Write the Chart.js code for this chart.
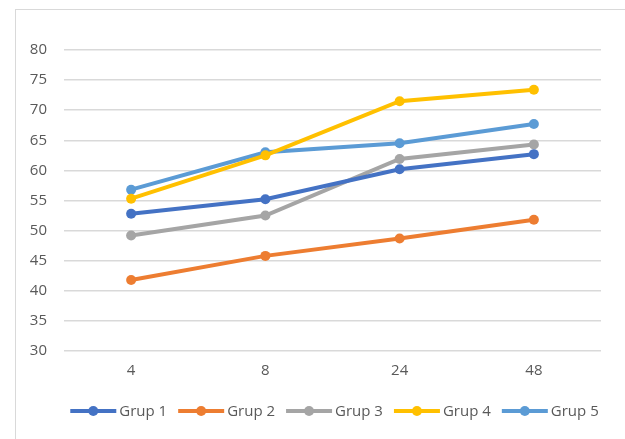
<!DOCTYPE html>
<html>
<head>
<meta charset="utf-8">
<script src="https://cdn.jsdelivr.net/npm/chart.js@4"></script>
<style>
    html, body { margin: 0; padding: 0; background: #fff; overflow: hidden; }
    #wrap { position: relative; width: 625px; height: 439px; }
    #frame {
        position: absolute; left: 15px; top: 9px; width: 700px; height: 500px;
        border-left: 1.5px solid #d9d9d9; border-top: 1.5px solid #d9d9d9;
    }
    #chart { position: absolute; left: 0; top: 0; }
</style>
</head>
<body>
<div id="wrap">
    <div id="frame"></div>
    <canvas id="chart" width="625" height="439"></canvas>
</div>
<script>
// data
const categories = ['4', '8', '24', '48'];
const seriesNames = ['Grup 1', 'Grup 2', 'Grup 3', 'Grup 4', 'Grup 5'];
const grup1 = [52.8, 55.2, 60.2, 62.7];
const grup2 = [41.8, 45.8, 48.7, 51.8];
const grup3 = [49.2, 52.5, 61.9, 64.3];
const grup4 = [55.3, 62.5, 71.5, 73.4];
const grup5 = [56.8, 63.0, 64.5, 67.7];
const yTicks = [30, 35, 40, 45, 50, 55, 60, 65, 70, 75, 80];

const colors = ['#4472C4', '#ED7D31', '#A5A5A5', '#FFC000', '#5B9BD5'];
const textColor = '#595959';
const fontFamily = '"Open Sans", "DejaVu Sans", sans-serif';

const allSeries = [grup1, grup2, grup3, grup4, grup5];

const datasets = allSeries.map((values, i) => ({
    label: seriesNames[i],
    data: values,
    borderColor: colors[i],
    backgroundColor: colors[i],
    pointBackgroundColor: colors[i],
    pointBorderColor: colors[i],
    borderWidth: 4,
    pointRadius: 5,
    pointBorderWidth: 0,
    tension: 0,
    fill: false
}));

// legend like Excel: short line with a dot, then the name
const lineLegend = {
    id: 'lineLegend',
    afterDraw(chart) {
        const ctx = chart.ctx;
        const area = chart.chartArea;
        const lineW = 46, gap = 3, spacing = 11;
        ctx.save();
        ctx.font = '15px ' + fontFamily;
        const widths = chart.data.datasets.map(ds => lineW + gap + ctx.measureText(ds.label).width);
        const total = widths.reduce((a, b) => a + b, 0) + spacing * (widths.length - 1);
        let x = (area.left + area.right) / 2 + 2 - total / 2;
        const y = 411;
        chart.data.datasets.forEach((ds, i) => {
            ctx.strokeStyle = ds.borderColor;
            ctx.lineWidth = 4;
            ctx.beginPath();
            ctx.moveTo(x, y);
            ctx.lineTo(x + lineW, y);
            ctx.stroke();
            ctx.fillStyle = ds.borderColor;
            ctx.beginPath();
            ctx.arc(x + lineW / 2, y, 5, 0, Math.PI * 2);
            ctx.fill();
            ctx.fillStyle = textColor;
            ctx.textAlign = 'left';
            ctx.textBaseline = 'middle';
            ctx.fillText(ds.label, x + lineW + gap, y + 1);
            x += widths[i] + spacing;
        });
        ctx.restore();
    }
};

new Chart(document.getElementById('chart').getContext('2d'), {
    type: 'line',
    data: { labels: categories, datasets: datasets },
    options: {
        responsive: false,
        animation: false,
        events: [],
        layout: { padding: { left: 15, top: 50, right: 24, bottom: 48 } },
        plugins: {
            legend: { display: false },
            tooltip: { enabled: false },
            title: { display: false }
        },
        scales: {
            x: {
                offset: true,
                grid: { display: false, drawTicks: false },
                border: { display: false },
                ticks: { color: textColor, font: { family: fontFamily, size: 15 }, padding: 11 }
            },
            y: {
                min: 30,
                max: 80,
                afterFit: scale => { scale.width = 49; },
                afterBuildTicks: scale => { scale.ticks = yTicks.map(v => ({ value: v })); },
                grid: { color: '#d9d9d9', lineWidth: 1.5, drawTicks: false },
                border: { display: false },
                ticks: { color: textColor, font: { family: fontFamily, size: 15 }, padding: 17 }
            }
        }
    },
    plugins: [lineLegend]
});
</script>
</body>
</html>
